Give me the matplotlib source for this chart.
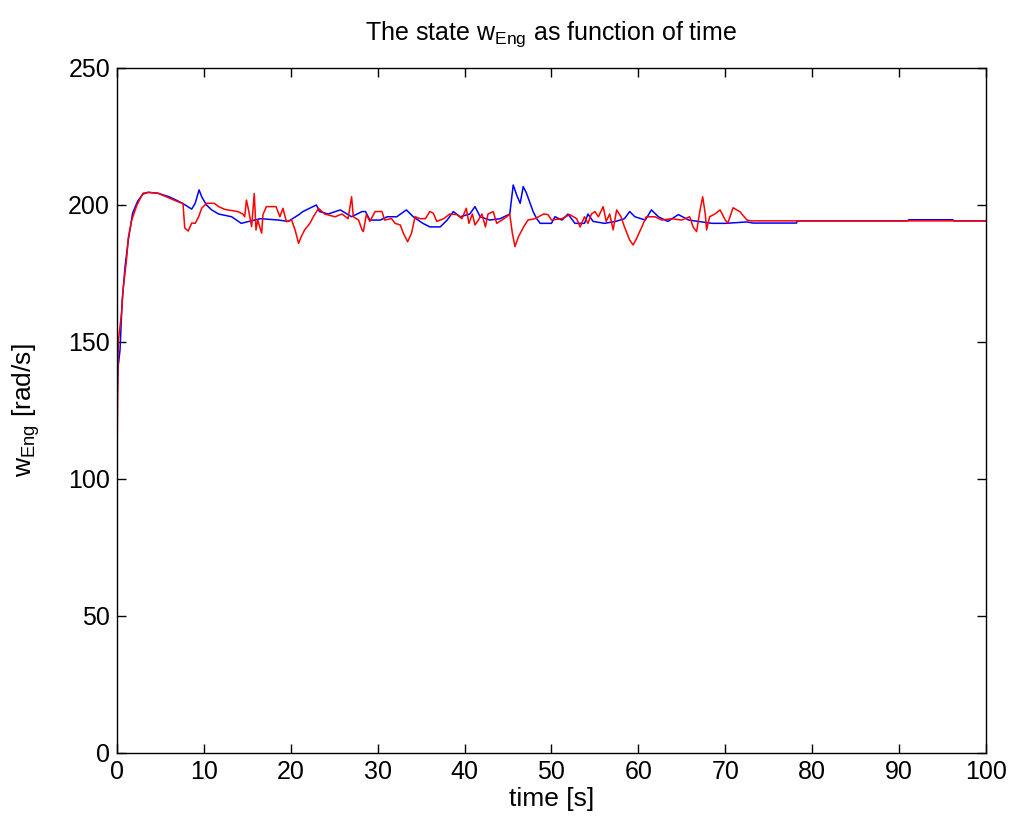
import matplotlib
matplotlib.use("Agg")
import matplotlib.pyplot as plt

# blue trace: time [s] and w_Eng [rad/s]
t_blue = [0.0, 0.05, 0.1, 0.35, 0.6, 0.95, 1.3, 1.8, 2.4, 3.0, 3.6, 4.7, 6.0, 7.0, 7.6,
          8.6, 9.0, 9.45, 9.75, 10.3, 10.9, 11.7, 13.2, 14.3, 15.2, 16.5, 18.6, 19.7,
          20.9, 21.4, 22.95, 23.3, 24.3, 25.7, 27.0, 28.2, 28.6, 29.1, 30.3, 31.1, 32.2,
          33.3, 34.1, 35.2, 36.0, 37.2, 38.0, 38.7, 39.5, 40.6, 41.2, 41.8, 42.9, 44.1,
          45.2, 45.6, 46.0, 46.4, 46.75, 47.1, 47.5, 47.9, 48.3, 48.7, 50.0, 50.4, 51.2,
          51.9, 52.7, 53.8, 54.2, 54.8, 56.1, 57.4, 58.4, 59.0, 59.6, 60.8, 61.5, 62.3,
          63.4, 64.6, 65.8, 66.9, 68.5, 70.0, 72.5, 73.2, 78.2, 78.3, 91.0, 91.1, 96.2,
          96.3, 100.0]
w_blue = [125, 133, 140, 147, 165, 178, 187, 197, 201.5, 204, 204.6, 204.3, 203, 201.5, 200.5,
          198.5, 200.6, 205.5, 203, 200, 198.2, 196.7, 195.7, 193.3, 194, 195, 194.5, 194,
          196.4, 197.6, 200, 197.6, 196.7, 198.2, 195.7, 197.6, 197.6, 194.5, 194.5, 195.7, 195.7,
          198.2, 195.7, 193.3, 192, 192, 194.5, 197.6, 195.7, 196.7, 199.4, 195.7, 194.5, 195,
          196.7, 207.3, 203.6, 200.6, 206.7, 204.5, 201, 197.5, 195, 193.3, 193.3, 195.7, 194.5,
          196.7, 193.3, 193.3, 196.7, 194, 193.3, 194, 195, 197.6, 195.7, 194.5, 198.2, 195.7,
          194, 196.5, 194.5, 194, 193.3, 193.3, 193.8, 193.4, 193.4, 194.2, 194.2, 194.6, 194.6,
          194.2, 194.2]

# red trace
t_red = [0.0, 0.15, 0.54, 0.7, 1.1, 1.3, 1.7, 2.3, 3.0, 3.6, 4.7, 7.0, 7.6, 7.8, 8.2, 8.6,
         9.0, 9.4, 9.75, 10.3, 11.2, 11.7, 12.4, 13.9, 14.5, 14.7, 14.9, 15.1, 15.5, 15.8,
         16.0, 16.2, 16.65, 16.8, 17.2, 18.3, 18.75, 19.1, 19.5, 20.1, 20.5, 20.9, 21.2,
         21.6, 22.2, 22.6, 23.2, 23.9, 25.1, 25.9, 26.6, 27.0, 27.2, 27.8, 28.2, 28.35,
         28.7, 29.1, 29.7, 30.5, 30.8, 31.6, 32.0, 32.6, 32.95, 33.45, 33.9, 34.3, 34.9,
         35.5, 36.0, 36.4, 36.8, 37.6, 38.3, 39.1, 39.7, 40.2, 40.5, 40.9, 41.2, 41.6,
         42.0, 42.4, 42.7, 43.3, 43.7, 44.3, 44.85, 45.2, 45.5, 45.8, 46.2, 46.8, 47.3,
         48.1, 49.1, 49.6, 50.0, 51.2, 52.1, 52.9, 53.3, 53.8, 54.2, 54.6, 55.0, 55.4,
         55.95, 56.3, 56.7, 57.1, 57.5, 58.0, 58.4, 59.0, 59.4, 59.8, 60.4, 60.9, 61.9,
         62.7, 63.8, 65.0, 65.9, 66.3, 66.7, 67.1, 67.4, 67.7, 67.85, 68.2, 68.8, 69.4,
         70.0, 70.3, 70.9, 71.7, 72.5, 73.0, 100.0]
w_red = [105, 150, 161, 169, 180, 188, 194.5, 200, 204.3, 204.6, 204.3, 201.2, 200.5, 191.6, 190.5, 193.4,
         193.3, 195.7, 198.8, 200.6, 200.6, 199.4, 198.4, 197.6, 196.7, 195.7, 201.8, 198.8, 192.1, 204.2,
         190.9, 194.5, 189.7, 196.5, 199.4, 199.4, 195.7, 198.8, 193.9, 194.5, 190.9, 186, 188.4,
         190.9, 193.3, 195.7, 198.8, 196.7, 195.7, 196.7, 195, 203, 195.7, 194.5, 190.9, 190.3,
         196.5, 194, 197.6, 197.6, 194.5, 195, 193.3, 192.7, 189.7, 186.6, 189.7, 195.7, 195,
         195, 197.6, 197, 194, 195, 196.7, 196.5, 195, 198.8, 193.3, 196.7, 192.7, 194.5,
         196.7, 192, 196.7, 197.6, 193.3, 194.5, 195.7, 196.7, 189.7, 184.8, 188.4, 192, 194.5,
         195, 196.7, 196.5, 194.5, 195, 196.5, 195, 192, 195.7, 193.3, 196.7, 197.6, 195.7,
         199.4, 194, 196.7, 190.9, 198.2, 195.7, 192, 187.2, 185.4, 187.8, 192, 195.7, 195.7,
         194.5, 195, 194.5, 195.7, 192, 190.3, 198.2, 203, 196.7, 190.9, 195.7, 196.7, 198.2,
         194.5, 193.4, 199, 197.5, 194.5, 194.2, 194.2]

plt.rcParams['font.family'] = ['Liberation Sans', 'DejaVu Sans']
plt.rcParams['mathtext.fontset'] = 'custom'
plt.rcParams['mathtext.rm'] = 'Liberation Sans'
plt.rcParams['mathtext.it'] = 'Liberation Sans'

fig = plt.figure(figsize=(10.1, 8.25), dpi=100)
ax = fig.add_axes([0.1158, 0.0873, 0.8604, 0.8303])

ax.plot(t_blue, w_blue, color='#0000ff', linewidth=1.1)
ax.plot(t_red, w_red, color='#ff0000', linewidth=1.1)

ax.set_xlim(0, 100)
ax.set_ylim(0, 250)
ax.set_xticks(range(0, 101, 10))
ax.set_yticks(range(0, 251, 50))
ax.tick_params(direction='in', length=6.5, width=1, top=True, right=True,
               labelsize=18, pad=5)
for s in ax.spines.values():
    s.set_linewidth(1)

ax.set_title(r'The state w$_{\mathrm{Eng}}$ as function of time', fontsize=18, pad=20)
ax.set_xlabel('time [s]', fontsize=19, labelpad=2)
ax.set_ylabel(r'w$_{\mathrm{Eng}}$ [rad/s]', fontsize=19, labelpad=19)

fig.savefig('out.png', dpi=100)
